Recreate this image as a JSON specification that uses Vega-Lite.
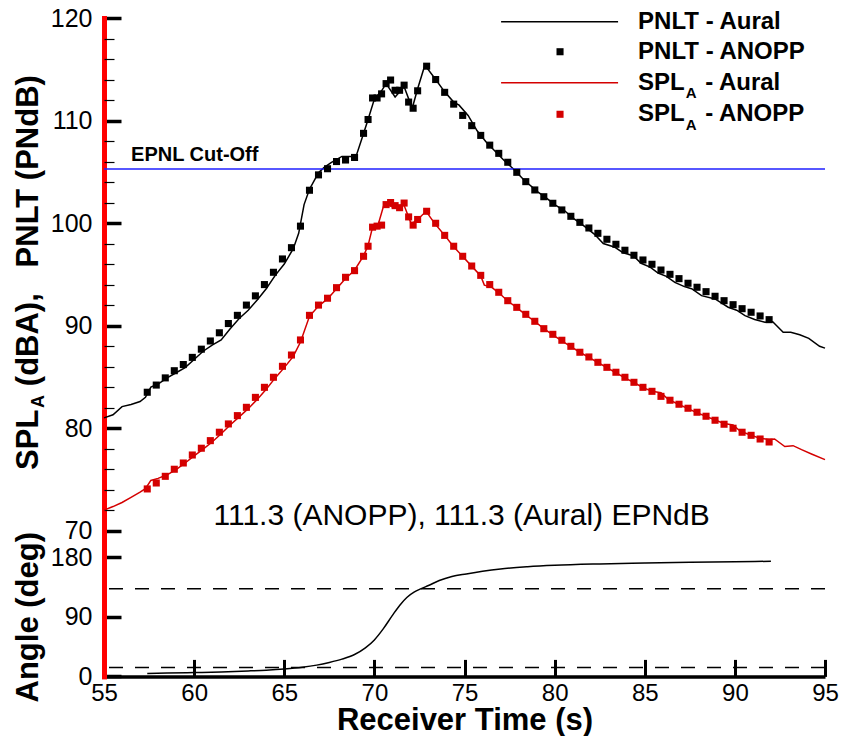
{
"$schema": "https://vega.github.io/schema/vega-lite/v6.json",
"padding": {"left": 12, "top": 6, "right": 2, "bottom": 0},
"bounds": "flush",
"spacing": 0,
"config": {
  "view": {"stroke": null},
  "font": "Liberation Sans",
  "axis": {"grid": false, "labelColor": "black", "titleColor": "black", "labelFont": "Liberation Sans", "titleFont": "Liberation Sans", "labelFontSize": 25, "titleFontSize": 31, "titleFontWeight": "bold", "labelOverlap": false}
},
"data": {"values": [{}]},
"datasets": {
"aural": [
{"time":55.0,"metric":"PNLT","level":81.0},{"time":55.5,"metric":"PNLT","level":81.3},{"time":56.0,"metric":"PNLT","level":82.1},{"time":56.5,"metric":"PNLT","level":82.3},{"time":57.0,"metric":"PNLT","level":82.6},{"time":57.3,"metric":"PNLT","level":83.0},{"time":57.6,"metric":"PNLT","level":84.0},{"time":58.0,"metric":"PNLT","level":84.3},{"time":58.5,"metric":"PNLT","level":84.9},{"time":59.0,"metric":"PNLT","level":85.4},{"time":59.5,"metric":"PNLT","level":85.9},{"time":60.0,"metric":"PNLT","level":86.7},{"time":60.5,"metric":"PNLT","level":87.5},{"time":61.0,"metric":"PNLT","level":88.1},{"time":61.5,"metric":"PNLT","level":88.6},{"time":62.0,"metric":"PNLT","level":89.7},{"time":62.5,"metric":"PNLT","level":90.7},{"time":63.0,"metric":"PNLT","level":91.5},{"time":63.5,"metric":"PNLT","level":92.5},{"time":64.0,"metric":"PNLT","level":93.6},{"time":64.5,"metric":"PNLT","level":94.9},{"time":65.0,"metric":"PNLT","level":96.0},{"time":65.5,"metric":"PNLT","level":97.5},{"time":65.8,"metric":"PNLT","level":99.0},{"time":66.1,"metric":"PNLT","level":101.8},{"time":66.4,"metric":"PNLT","level":103.3},{"time":66.9,"metric":"PNLT","level":104.9},{"time":67.2,"metric":"PNLT","level":105.4},{"time":67.6,"metric":"PNLT","level":105.9},{"time":68.2,"metric":"PNLT","level":106.5},{"time":68.7,"metric":"PNLT","level":106.5},{"time":69.0,"metric":"PNLT","level":106.6},{"time":69.3,"metric":"PNLT","level":108.2},{"time":69.65,"metric":"PNLT","level":110.1},{"time":70.0,"metric":"PNLT","level":112.1},{"time":70.4,"metric":"PNLT","level":112.9},{"time":70.65,"metric":"PNLT","level":113.6},{"time":71.15,"metric":"PNLT","level":112.3},{"time":71.65,"metric":"PNLT","level":113.3},{"time":72.1,"metric":"PNLT","level":111.2},{"time":72.4,"metric":"PNLT","level":113.1},{"time":72.8,"metric":"PNLT","level":115.4},{"time":73.4,"metric":"PNLT","level":114.0},{"time":73.9,"metric":"PNLT","level":112.8},{"time":74.4,"metric":"PNLT","level":111.8},{"time":74.7,"metric":"PNLT","level":111.5},{"time":75.2,"metric":"PNLT","level":110.5},{"time":75.7,"metric":"PNLT","level":109.0},{"time":76.2,"metric":"PNLT","level":107.9},{"time":76.7,"metric":"PNLT","level":107.0},{"time":77.2,"metric":"PNLT","level":106.1},{"time":77.7,"metric":"PNLT","level":105.3},{"time":78.3,"metric":"PNLT","level":104.2},{"time":79.1,"metric":"PNLT","level":103.0},{"time":79.5,"metric":"PNLT","level":102.5},{"time":80.0,"metric":"PNLT","level":101.8},{"time":80.56,"metric":"PNLT","level":101.2},{"time":81.0,"metric":"PNLT","level":100.5},{"time":81.5,"metric":"PNLT","level":99.9},{"time":82.2,"metric":"PNLT","level":98.93},{"time":82.7,"metric":"PNLT","level":98.0},{"time":83.35,"metric":"PNLT","level":97.64},{"time":83.8,"metric":"PNLT","level":97.1},{"time":84.36,"metric":"PNLT","level":96.82},{"time":84.8,"metric":"PNLT","level":96.08},{"time":85.3,"metric":"PNLT","level":95.7},{"time":85.74,"metric":"PNLT","level":95.13},{"time":86.2,"metric":"PNLT","level":94.8},{"time":86.67,"metric":"PNLT","level":94.22},{"time":87.2,"metric":"PNLT","level":93.8},{"time":87.6,"metric":"PNLT","level":93.6},{"time":88.15,"metric":"PNLT","level":92.92},{"time":88.9,"metric":"PNLT","level":92.6},{"time":89.63,"metric":"PNLT","level":91.79},{"time":90.1,"metric":"PNLT","level":91.5},{"time":90.56,"metric":"PNLT","level":90.97},{"time":91.1,"metric":"PNLT","level":90.6},{"time":91.67,"metric":"PNLT","level":90.32},{"time":92.1,"metric":"PNLT","level":90.38},{"time":92.68,"metric":"PNLT","level":89.35},{"time":93.1,"metric":"PNLT","level":89.35},{"time":93.6,"metric":"PNLT","level":89.1},{"time":94.1,"metric":"PNLT","level":88.76},{"time":94.7,"metric":"PNLT","level":87.98},{"time":95.0,"metric":"PNLT","level":87.8},
{"time":55.0,"metric":"SPLA","level":72.0},{"time":55.5,"metric":"SPLA","level":72.35},{"time":56.0,"metric":"SPLA","level":72.75},{"time":56.5,"metric":"SPLA","level":73.25},{"time":57.0,"metric":"SPLA","level":73.75},{"time":57.3,"metric":"SPLA","level":74.1},{"time":57.6,"metric":"SPLA","level":74.9},{"time":58.0,"metric":"SPLA","level":75.1},{"time":58.5,"metric":"SPLA","level":75.45},{"time":59.0,"metric":"SPLA","level":75.95},{"time":59.5,"metric":"SPLA","level":76.6},{"time":60.0,"metric":"SPLA","level":77.3},{"time":60.5,"metric":"SPLA","level":77.95},{"time":61.0,"metric":"SPLA","level":78.65},{"time":61.5,"metric":"SPLA","level":79.45},{"time":62.0,"metric":"SPLA","level":80.3},{"time":62.5,"metric":"SPLA","level":81.1},{"time":63.0,"metric":"SPLA","level":81.9},{"time":63.5,"metric":"SPLA","level":82.8},{"time":64.0,"metric":"SPLA","level":83.8},{"time":64.5,"metric":"SPLA","level":84.9},{"time":65.0,"metric":"SPLA","level":85.9},{"time":65.5,"metric":"SPLA","level":87.0},{"time":65.9,"metric":"SPLA","level":88.4},{"time":66.4,"metric":"SPLA","level":90.9},{"time":66.9,"metric":"SPLA","level":91.9},{"time":67.4,"metric":"SPLA","level":92.6},{"time":67.9,"metric":"SPLA","level":93.6},{"time":68.4,"metric":"SPLA","level":94.6},{"time":68.9,"metric":"SPLA","level":95.4},{"time":69.4,"metric":"SPLA","level":96.8},{"time":69.65,"metric":"SPLA","level":97.8},{"time":69.9,"metric":"SPLA","level":99.6},{"time":70.2,"metric":"SPLA","level":99.8},{"time":70.55,"metric":"SPLA","level":101.9},{"time":70.95,"metric":"SPLA","level":101.6},{"time":71.3,"metric":"SPLA","level":101.4},{"time":71.6,"metric":"SPLA","level":101.95},{"time":72.05,"metric":"SPLA","level":99.9},{"time":72.4,"metric":"SPLA","level":100.35},{"time":72.87,"metric":"SPLA","level":101.15},{"time":73.35,"metric":"SPLA","level":99.95},{"time":73.9,"metric":"SPLA","level":98.8},{"time":74.4,"metric":"SPLA","level":97.7},{"time":74.9,"metric":"SPLA","level":96.75},{"time":75.4,"metric":"SPLA","level":95.8},{"time":75.9,"metric":"SPLA","level":94.85},{"time":76.1,"metric":"SPLA","level":93.95},{"time":76.5,"metric":"SPLA","level":93.75},{"time":76.9,"metric":"SPLA","level":93.2},{"time":77.4,"metric":"SPLA","level":92.4},{"time":77.9,"metric":"SPLA","level":91.75},{"time":78.4,"metric":"SPLA","level":91.05},{"time":78.9,"metric":"SPLA","level":90.4},{"time":79.4,"metric":"SPLA","level":89.7},{"time":79.9,"metric":"SPLA","level":89.1},{"time":80.4,"metric":"SPLA","level":88.5},{"time":80.9,"metric":"SPLA","level":87.95},{"time":81.4,"metric":"SPLA","level":87.4},{"time":81.9,"metric":"SPLA","level":86.9},{"time":82.4,"metric":"SPLA","level":86.4},{"time":82.9,"metric":"SPLA","level":85.9},{"time":83.4,"metric":"SPLA","level":85.4},{"time":83.9,"metric":"SPLA","level":84.9},{"time":84.4,"metric":"SPLA","level":84.45},{"time":84.9,"metric":"SPLA","level":83.95},{"time":85.4,"metric":"SPLA","level":83.6},{"time":85.9,"metric":"SPLA","level":83.45},{"time":86.3,"metric":"SPLA","level":82.8},{"time":86.9,"metric":"SPLA","level":82.3},{"time":87.4,"metric":"SPLA","level":81.9},{"time":87.9,"metric":"SPLA","level":81.5},{"time":88.4,"metric":"SPLA","level":81.15},{"time":88.9,"metric":"SPLA","level":80.8},{"time":89.4,"metric":"SPLA","level":80.45},{"time":89.9,"metric":"SPLA","level":80.3},{"time":90.3,"metric":"SPLA","level":79.7},{"time":90.9,"metric":"SPLA","level":79.3},{"time":91.4,"metric":"SPLA","level":79.0},{"time":91.9,"metric":"SPLA","level":78.9},{"time":92.2,"metric":"SPLA","level":78.94},{"time":92.77,"metric":"SPLA","level":78.2},{"time":93.23,"metric":"SPLA","level":78.29},{"time":93.7,"metric":"SPLA","level":77.9},{"time":94.25,"metric":"SPLA","level":77.48},{"time":95.0,"metric":"SPLA","level":76.93}
],
"anopp": [
{"time":57.4,"metric":"PNLT","level":83.5},{"time":57.9,"metric":"PNLT","level":84.2},{"time":58.4,"metric":"PNLT","level":84.9},{"time":58.9,"metric":"PNLT","level":85.6},{"time":59.4,"metric":"PNLT","level":86.2},{"time":59.9,"metric":"PNLT","level":86.9},{"time":60.4,"metric":"PNLT","level":87.7},{"time":60.9,"metric":"PNLT","level":88.5},{"time":61.4,"metric":"PNLT","level":89.3},{"time":61.9,"metric":"PNLT","level":90.2},{"time":62.4,"metric":"PNLT","level":91.0},{"time":62.9,"metric":"PNLT","level":92.0},{"time":63.4,"metric":"PNLT","level":92.9},{"time":63.9,"metric":"PNLT","level":94.0},{"time":64.4,"metric":"PNLT","level":95.2},{"time":64.9,"metric":"PNLT","level":96.5},{"time":65.4,"metric":"PNLT","level":97.6},{"time":65.9,"metric":"PNLT","level":99.7},{"time":66.4,"metric":"PNLT","level":103.2},{"time":66.9,"metric":"PNLT","level":104.7},{"time":67.4,"metric":"PNLT","level":105.3},{"time":67.9,"metric":"PNLT","level":106.0},{"time":68.4,"metric":"PNLT","level":106.15},{"time":68.9,"metric":"PNLT","level":106.4},{"time":69.4,"metric":"PNLT","level":108.75},{"time":69.65,"metric":"PNLT","level":110.1},{"time":69.9,"metric":"PNLT","level":112.2},{"time":70.15,"metric":"PNLT","level":112.2},{"time":70.4,"metric":"PNLT","level":112.6},{"time":70.65,"metric":"PNLT","level":113.6},{"time":70.9,"metric":"PNLT","level":113.95},{"time":71.15,"metric":"PNLT","level":112.95},{"time":71.4,"metric":"PNLT","level":112.95},{"time":71.65,"metric":"PNLT","level":113.45},{"time":71.9,"metric":"PNLT","level":111.8},{"time":72.15,"metric":"PNLT","level":111.2},{"time":72.4,"metric":"PNLT","level":112.9},{"time":72.9,"metric":"PNLT","level":115.3},{"time":73.4,"metric":"PNLT","level":114.0},{"time":73.9,"metric":"PNLT","level":112.75},{"time":74.4,"metric":"PNLT","level":111.6},{"time":74.9,"metric":"PNLT","level":110.5},{"time":75.4,"metric":"PNLT","level":109.5},{"time":75.9,"metric":"PNLT","level":108.55},{"time":76.4,"metric":"PNLT","level":107.6},{"time":76.9,"metric":"PNLT","level":106.8},{"time":77.4,"metric":"PNLT","level":105.93},{"time":77.9,"metric":"PNLT","level":104.95},{"time":78.4,"metric":"PNLT","level":104.04},{"time":78.9,"metric":"PNLT","level":103.23},{"time":79.4,"metric":"PNLT","level":102.57},{"time":79.9,"metric":"PNLT","level":101.93},{"time":80.4,"metric":"PNLT","level":101.28},{"time":80.9,"metric":"PNLT","level":100.66},{"time":81.4,"metric":"PNLT","level":100.07},{"time":81.9,"metric":"PNLT","level":99.52},{"time":82.4,"metric":"PNLT","level":99.0},{"time":82.9,"metric":"PNLT","level":98.42},{"time":83.4,"metric":"PNLT","level":97.93},{"time":83.9,"metric":"PNLT","level":97.35},{"time":84.4,"metric":"PNLT","level":96.86},{"time":84.9,"metric":"PNLT","level":96.4},{"time":85.4,"metric":"PNLT","level":95.98},{"time":85.9,"metric":"PNLT","level":95.42},{"time":86.4,"metric":"PNLT","level":95.0},{"time":86.9,"metric":"PNLT","level":94.58},{"time":87.4,"metric":"PNLT","level":94.13},{"time":87.9,"metric":"PNLT","level":93.74},{"time":88.4,"metric":"PNLT","level":93.31},{"time":88.9,"metric":"PNLT","level":92.86},{"time":89.4,"metric":"PNLT","level":92.43},{"time":89.9,"metric":"PNLT","level":92.04},{"time":90.4,"metric":"PNLT","level":91.65},{"time":90.9,"metric":"PNLT","level":91.3},{"time":91.4,"metric":"PNLT","level":90.94},{"time":91.9,"metric":"PNLT","level":90.58},
{"time":57.4,"metric":"SPLA","level":74.07},{"time":57.9,"metric":"SPLA","level":74.65},{"time":58.4,"metric":"SPLA","level":75.3},{"time":58.9,"metric":"SPLA","level":75.99},{"time":59.4,"metric":"SPLA","level":76.6},{"time":59.9,"metric":"SPLA","level":77.38},{"time":60.4,"metric":"SPLA","level":78.04},{"time":60.9,"metric":"SPLA","level":78.78},{"time":61.4,"metric":"SPLA","level":79.6},{"time":61.9,"metric":"SPLA","level":80.41},{"time":62.4,"metric":"SPLA","level":81.22},{"time":62.9,"metric":"SPLA","level":82.03},{"time":63.4,"metric":"SPLA","level":83.0},{"time":63.9,"metric":"SPLA","level":83.98},{"time":64.4,"metric":"SPLA","level":84.96},{"time":64.9,"metric":"SPLA","level":86.03},{"time":65.4,"metric":"SPLA","level":87.13},{"time":65.9,"metric":"SPLA","level":88.6},{"time":66.4,"metric":"SPLA","level":91.0},{"time":66.9,"metric":"SPLA","level":92.0},{"time":67.4,"metric":"SPLA","level":92.67},{"time":67.9,"metric":"SPLA","level":93.7},{"time":68.4,"metric":"SPLA","level":94.71},{"time":68.9,"metric":"SPLA","level":95.36},{"time":69.4,"metric":"SPLA","level":96.76},{"time":69.65,"metric":"SPLA","level":97.74},{"time":69.9,"metric":"SPLA","level":99.6},{"time":70.15,"metric":"SPLA","level":99.7},{"time":70.4,"metric":"SPLA","level":99.8},{"time":70.65,"metric":"SPLA","level":101.8},{"time":70.9,"metric":"SPLA","level":102.0},{"time":71.15,"metric":"SPLA","level":101.7},{"time":71.4,"metric":"SPLA","level":101.5},{"time":71.65,"metric":"SPLA","level":101.95},{"time":71.9,"metric":"SPLA","level":100.6},{"time":72.15,"metric":"SPLA","level":99.8},{"time":72.4,"metric":"SPLA","level":100.35},{"time":72.9,"metric":"SPLA","level":101.15},{"time":73.4,"metric":"SPLA","level":99.98},{"time":73.9,"metric":"SPLA","level":98.8},{"time":74.4,"metric":"SPLA","level":97.74},{"time":74.9,"metric":"SPLA","level":96.76},{"time":75.4,"metric":"SPLA","level":95.81},{"time":75.9,"metric":"SPLA","level":94.9},{"time":76.4,"metric":"SPLA","level":94.0},{"time":76.9,"metric":"SPLA","level":93.25},{"time":77.4,"metric":"SPLA","level":92.43},{"time":77.9,"metric":"SPLA","level":91.78},{"time":78.4,"metric":"SPLA","level":91.1},{"time":78.9,"metric":"SPLA","level":90.42},{"time":79.4,"metric":"SPLA","level":89.7},{"time":79.9,"metric":"SPLA","level":89.15},{"time":80.4,"metric":"SPLA","level":88.57},{"time":80.9,"metric":"SPLA","level":87.98},{"time":81.4,"metric":"SPLA","level":87.4},{"time":81.9,"metric":"SPLA","level":86.94},{"time":82.4,"metric":"SPLA","level":86.42},{"time":82.9,"metric":"SPLA","level":85.93},{"time":83.4,"metric":"SPLA","level":85.45},{"time":83.9,"metric":"SPLA","level":84.96},{"time":84.4,"metric":"SPLA","level":84.47},{"time":84.9,"metric":"SPLA","level":83.98},{"time":85.4,"metric":"SPLA","level":83.59},{"time":85.9,"metric":"SPLA","level":83.1},{"time":86.4,"metric":"SPLA","level":82.72},{"time":86.9,"metric":"SPLA","level":82.33},{"time":87.4,"metric":"SPLA","level":81.94},{"time":87.9,"metric":"SPLA","level":81.55},{"time":88.4,"metric":"SPLA","level":81.16},{"time":88.9,"metric":"SPLA","level":80.77},{"time":89.4,"metric":"SPLA","level":80.38},{"time":89.9,"metric":"SPLA","level":79.99},{"time":90.4,"metric":"SPLA","level":79.6},{"time":90.9,"metric":"SPLA","level":79.3},{"time":91.4,"metric":"SPLA","level":78.94},{"time":91.9,"metric":"SPLA","level":78.65}
],
"angle": [
{"time":57.4,"angle":4.5},{"time":58.5,"angle":5.0},{"time":60.0,"angle":5.8},{"time":61.5,"angle":6.8},{"time":63.0,"angle":8.2},{"time":64.0,"angle":9.4},{"time":65.0,"angle":11.2},{"time":66.0,"angle":13.8},{"time":66.8,"angle":17.0},{"time":67.5,"angle":21.0},{"time":68.2,"angle":26.0},{"time":68.9,"angle":33.0},{"time":69.5,"angle":43.0},{"time":70.0,"angle":55.0},{"time":70.5,"angle":72.0},{"time":71.0,"angle":92.0},{"time":71.4,"angle":107.0},{"time":71.8,"angle":119.0},{"time":72.2,"angle":127.0},{"time":72.6,"angle":132.3},{"time":73.0,"angle":137.0},{"time":73.6,"angle":144.5},{"time":74.3,"angle":150.5},{"time":75.1,"angle":154.5},{"time":76.0,"angle":158.5},{"time":77.0,"angle":162.0},{"time":78.5,"angle":165.3},{"time":80.0,"angle":167.5},{"time":82.5,"angle":169.6},{"time":85.0,"angle":171.0},{"time":87.5,"angle":172.2},{"time":90.0,"angle":173.0},{"time":92.0,"angle":173.5}
],
"limits": [{"angle":132.3},{"angle":13.6}]
},
"vconcat": [
{
  "width": 721,
  "height": 538.3,
  "resolve": {"axis": {"y": "independent"}},
  "layer": [
    {
      "data": {"name": "aural"},
      "mark": {"type": "line", "strokeWidth": 1.5},
      "encoding": {
        "x": {"field": "time", "type": "quantitative", "scale": {"domain": [55, 95], "nice": false, "zero": false}, "axis": null},
        "y": {"field": "level", "type": "quantitative", "scale": {"domain": [67.5, 120], "nice": false, "zero": false},
          "axis": {
            "orient": "left",
            "values": [70, 80, 90, 100, 110, 120],
            "tickSize": -17,
            "tickWidth": 3.5,
            "tickColor": "black",
            "labelPadding": 29,
            "labelOverlap": false,
            "domainColor": "#ff0000", "domainWidth": 5, "domainCap": "square",
            "title": "SPL\u00a0\u00a0\u2009(dBA),\u00a0\u00a0\u00a0PNLT (PNdB)",
            "titlePadding": 6,
            "titleY": 254
          }},
        "color": {"field": "metric", "type": "nominal", "scale": {"domain": ["PNLT", "SPLA"], "range": ["#000000", "#d40000"]}, "legend": null}
      }
    },
    {
      "mark": {"type": "rule", "color": "#1f1fff", "strokeWidth": 1.6},
      "encoding": {"y": {"datum": 105.27, "type": "quantitative", "axis": null}}
    },
    {
      "data": {"name": "anopp"},
      "mark": {"type": "point", "shape": "square", "filled": true, "size": 50, "opacity": 1},
      "encoding": {
        "x": {"field": "time", "type": "quantitative", "axis": null},
        "y": {"field": "level", "type": "quantitative",
          "axis": {"orient": "left", "values": [72,74,76,78,82,84,86,88,92,94,96,98,102,104,106,108,112,114,116,118], "tickSize": -10, "tickWidth": 1.2, "tickColor": "black", "labels": false, "domain": false, "title": null}},
        "color": {"field": "metric", "type": "nominal", "legend": null}
      }
    },
    {
      "mark": {"type": "text", "text": "EPNL Cut-Off", "fontSize": 20, "fontWeight": "bold", "align": "left", "baseline": "alphabetic", "color": "black"},
      "encoding": {"x": {"datum": 56.5, "axis": null}, "y": {"datum": 106.05, "axis": null}}
    },
    {
      "mark": {"type": "text", "text": "111.3 (ANOPP), 111.3 (Aural) EPNdB", "fontSize": 30, "align": "center", "baseline": "alphabetic", "color": "black"},
      "encoding": {"x": {"datum": 74.84, "axis": null}, "y": {"datum": 70.56, "axis": null}}
    },
    {
      "mark": {"type": "text", "text": "A", "fontSize": 18, "fontWeight": "bold", "angle": 270, "align": "center", "baseline": "middle", "dy": -65, "color": "black"},
      "encoding": {"x": {"datum": 55, "axis": null}, "y": {"datum": 82.6, "axis": null}}
    },
    {
      "mark": {"type": "rule", "color": "black", "strokeWidth": 1.5},
      "encoding": {"x": {"datum": 77.03, "axis": null}, "x2": {"datum": 83.52}, "y": {"datum": 119.64, "axis": null}}
    },
    {
      "mark": {"type": "point", "shape": "square", "filled": true, "size": 50, "opacity": 1, "color": "black"},
      "encoding": {"x": {"datum": 80.3, "axis": null}, "y": {"datum": 116.71, "axis": null}}
    },
    {
      "mark": {"type": "rule", "color": "#d40000", "strokeWidth": 1.5},
      "encoding": {"x": {"datum": 77.03, "axis": null}, "x2": {"datum": 83.52}, "y": {"datum": 113.69, "axis": null}}
    },
    {
      "mark": {"type": "point", "shape": "square", "filled": true, "size": 50, "opacity": 1, "color": "#d40000"},
      "encoding": {"x": {"datum": 80.3, "axis": null}, "y": {"datum": 110.61, "axis": null}}
    },
    {
      "mark": {"type": "text", "text": "PNLT - Aural", "fontSize": 24, "fontWeight": "bold", "align": "left", "baseline": "middle", "color": "black"},
      "encoding": {"x": {"datum": 84.63, "axis": null}, "y": {"datum": 119.64, "axis": null}}
    },
    {
      "mark": {"type": "text", "text": "PNLT - ANOPP", "fontSize": 24, "fontWeight": "bold", "align": "left", "baseline": "middle", "color": "black"},
      "encoding": {"x": {"datum": 84.63, "axis": null}, "y": {"datum": 116.71, "axis": null}}
    },
    {
      "mark": {"type": "text", "text": "SPL", "fontSize": 24, "fontWeight": "bold", "align": "left", "baseline": "middle", "color": "black"},
      "encoding": {"x": {"datum": 84.63, "axis": null}, "y": {"datum": 113.69, "axis": null}}
    },
    {
      "mark": {"type": "text", "text": "A", "fontSize": 15, "fontWeight": "bold", "align": "center", "baseline": "middle", "color": "black"},
      "encoding": {"x": {"datum": 87.57, "axis": null}, "y": {"datum": 112.68, "axis": null}}
    },
    {
      "mark": {"type": "text", "text": "- Aural", "fontSize": 24, "fontWeight": "bold", "align": "left", "baseline": "middle", "color": "black"},
      "encoding": {"x": {"datum": 88.35, "axis": null}, "y": {"datum": 113.69, "axis": null}}
    },
    {
      "mark": {"type": "text", "text": "SPL", "fontSize": 24, "fontWeight": "bold", "align": "left", "baseline": "middle", "color": "black"},
      "encoding": {"x": {"datum": 84.63, "axis": null}, "y": {"datum": 110.61, "axis": null}}
    },
    {
      "mark": {"type": "text", "text": "A", "fontSize": 15, "fontWeight": "bold", "align": "center", "baseline": "middle", "color": "black"},
      "encoding": {"x": {"datum": 87.57, "axis": null}, "y": {"datum": 109.6, "axis": null}}
    },
    {
      "mark": {"type": "text", "text": "- ANOPP", "fontSize": 24, "fontWeight": "bold", "align": "left", "baseline": "middle", "color": "black"},
      "encoding": {"x": {"datum": 88.35, "axis": null}, "y": {"datum": 110.61, "axis": null}}
    }
  ]
},
{
  "width": 721,
  "height": 119.4,
  "layer": [
    {
      "data": {"name": "angle"},
      "mark": {"type": "line", "color": "black", "strokeWidth": 1.5, "interpolate": "monotone"},
      "encoding": {
        "x": {"field": "time", "type": "quantitative", "scale": {"domain": [55, 95], "nice": false, "zero": false},
          "axis": {"values": [55,60,65,70,75,80,85,90,95], "tickSize": -17, "tickWidth": 3, "tickColor": "black", "domainColor": "black", "domainWidth": 3.5, "labelFlush": false, "labelFontSize": 24, "labelPadding": 22, "labelOverlap": false, "title": "Receiver Time (s)", "titlePadding": 0}},
        "y": {"field": "angle", "type": "quantitative", "scale": {"domain": [0, 180], "nice": false, "zero": false},
          "axis": {"values": [0, 90, 180], "tickSize": -17, "tickWidth": 3.5, "tickColor": "black", "domainColor": "#ff0000", "domainWidth": 5, "domainCap": "square", "labelPadding": 29, "labelOverlap": false, "title": "Angle (deg)", "titlePadding": 6}}
      }
    },
    {
      "data": {"name": "limits"},
      "mark": {"type": "rule", "color": "black", "strokeWidth": 1.5, "strokeDash": [14, 12]},
      "encoding": {"y": {"field": "angle", "type": "quantitative"}}
    }
  ]
}
]
}
